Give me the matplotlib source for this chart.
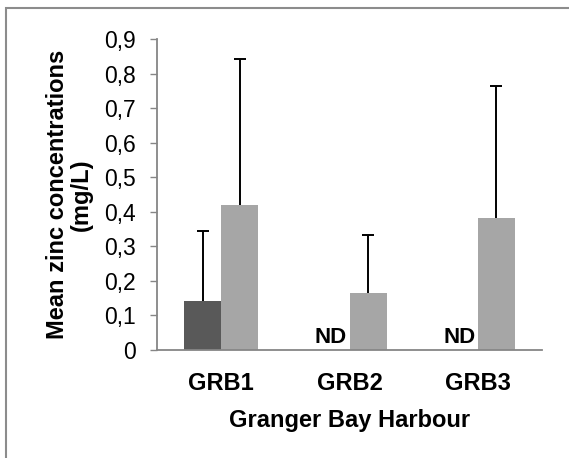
import numpy as np
import matplotlib.pyplot as plt
from matplotlib.patches import Rectangle

plt.rcParams['font.family'] = ['Liberation Sans', 'DejaVu Sans']

sites = ['GRB1', 'GRB2', 'GRB3']
dark_vals = [0.143, 0.0, 0.0]
dark_err = [0.202, 0.0, 0.0]
light_vals = [0.42, 0.164, 0.381]
light_err = [0.421, 0.168, 0.383]
dark_detected = [True, False, False]
yticks = [0, 0.1, 0.2, 0.3, 0.4, 0.5, 0.6, 0.7, 0.8, 0.9]

fig = plt.figure(figsize=(5.69, 4.58), dpi=100)
# outer chart border (runs off the right and bottom edges)
fig.patches.append(Rectangle((6 / 569, -0.1), 1.1, (458 - 8) / 458 + 0.1,
                             transform=fig.transFigure, fill=False,
                             edgecolor='#8c8c8c', linewidth=1.5))

ax = fig.add_axes([157 / 569, 1 - 350 / 458, (542 - 157) / 569, (350 - 39) / 458])

x = np.arange(len(sites))
w = 0.29


def upper_err(xs, ys, errs):
    # only the upper whisker, with a cap at the top
    eb = ax.errorbar(xs, ys, yerr=[np.zeros(len(ys)), errs], fmt='none',
                     ecolor='black', elinewidth=1.4, capsize=4, capthick=1.4)
    eb.lines[1][0].set_visible(False)


for i in range(len(sites)):
    if dark_detected[i]:
        ax.bar(x[i] - w / 2, dark_vals[i], w, color='#595959')
        upper_err([x[i] - w / 2], [dark_vals[i]], [dark_err[i]])
    else:
        ax.text(x[i] - w / 2, 0.005, 'ND', ha='center', va='bottom',
                fontsize=16, fontweight='bold')
ax.bar(x + w / 2, light_vals, w, color='#a6a6a6')
upper_err(x + w / 2, light_vals, light_err)

ax.set_xlim(-0.5, 2.5)
ax.set_ylim(0, 0.9)
ax.set_yticks(yticks)
ax.set_yticklabels([('%.1f' % t).replace('.', ',') if t else '0' for t in yticks])
ax.set_xticks(x)
ax.set_xticklabels(sites, fontweight='bold')
ax.tick_params(axis='x', length=0, labelsize=17, pad=16)
ax.tick_params(axis='y', length=5, width=1, color='#868686', labelsize=16.5, pad=10)

for s in ['top', 'right']:
    ax.spines[s].set_visible(False)
for s in ['left', 'bottom']:
    ax.spines[s].set_color('#868686')
    ax.spines[s].set_linewidth(1.3)

ax.set_ylabel('Mean zinc concentrations\n(mg/L)', fontsize=17, fontweight='bold',
              linespacing=1.05, labelpad=8)
ax.set_xlabel('Granger Bay Harbour', fontsize=17, fontweight='bold', labelpad=10)

fig.savefig('out.png', dpi=100)
